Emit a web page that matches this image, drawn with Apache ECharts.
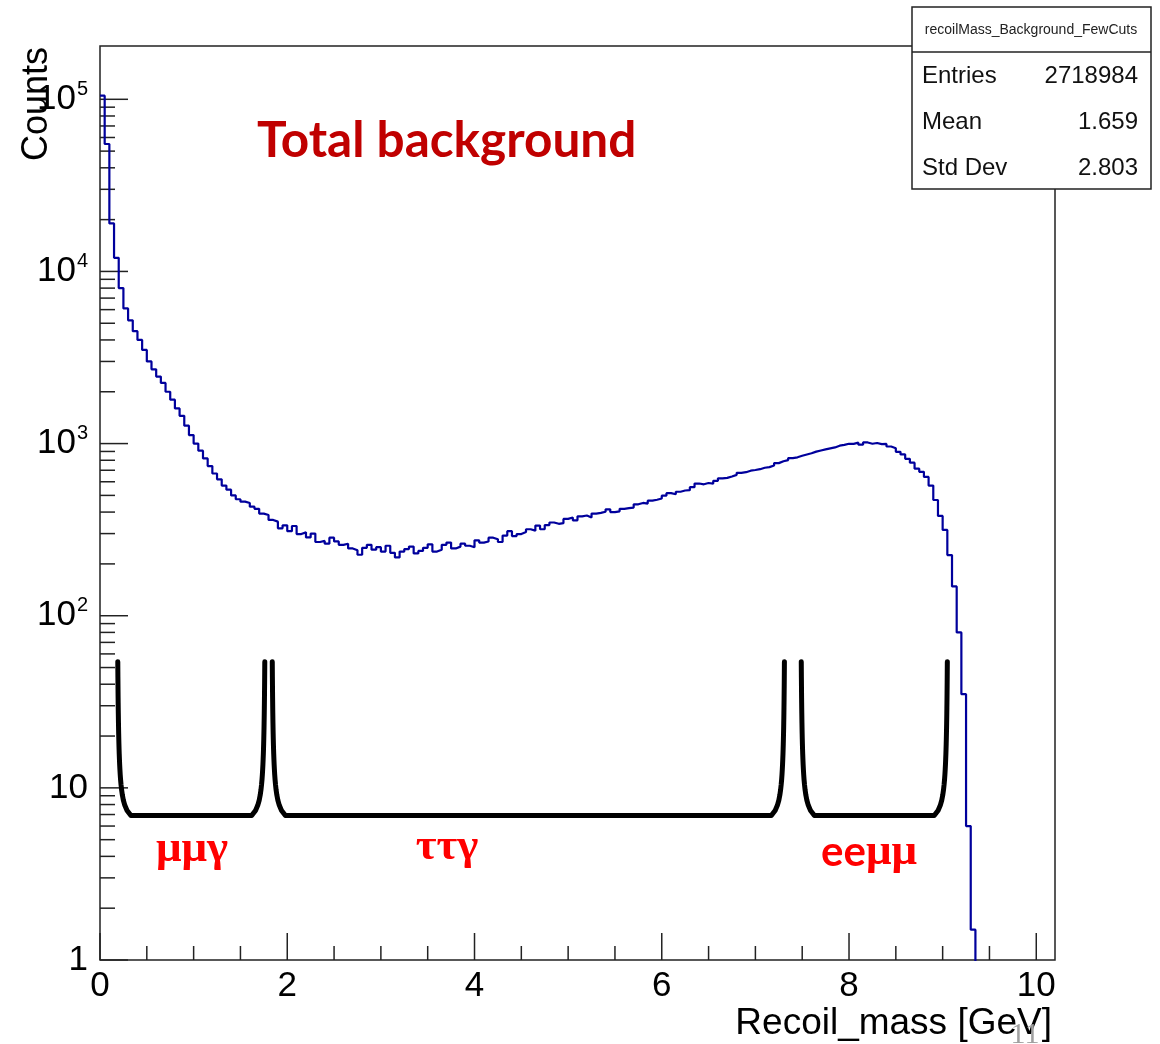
<!DOCTYPE html>
<html>
<head>
<meta charset="utf-8">
<script src="https://cdn.jsdelivr.net/npm/echarts@6/dist/echarts.min.js"></script>
<style>
  html, body { margin: 0; padding: 0; background: #ffffff; }
  #chart { width: 1160px; height: 1044px; }
</style>
</head>
<body>
<div id="chart"></div>
<script>
// Recoil mass histogram, 0.05 GeV bins starting at 0
const binWidth = 0.05;
const counts = [
  105000, 55000, 19000, 12000, 8000, 6100, 5200, 4500, 4000, 3500,
  3000, 2700, 2450, 2250, 2000, 1800, 1600, 1450, 1270, 1120,
  1000, 910, 820, 740, 670, 620, 570, 540, 500, 475,
  460, 452, 430, 418, 392, 385, 360, 352, 322, 335,
  310, 332, 298, 305, 285, 300, 268, 272, 262, 284,
  270, 258, 262, 246, 240, 226, 248, 258, 242, 250,
  236, 255, 232, 218, 236, 244, 252, 230, 238, 248,
  260, 236, 242, 258, 266, 246, 252, 262, 255, 250,
  274, 266, 270, 284, 278, 268, 292, 310, 290, 298,
  306, 318, 312, 334, 318, 336, 348, 342, 345, 365,
  372, 358, 378, 382, 372, 392, 396, 402, 415, 400,
  404, 418, 422, 425, 444, 452, 448, 466, 472, 480,
  498, 515, 508, 525, 534, 536, 558, 586, 580, 590,
  586, 608, 628, 632, 644, 658, 676, 682, 696, 702,
  710, 724, 730, 746, 770, 790, 802, 824, 832, 850,
  864, 878, 898, 912, 926, 938, 950, 972, 982, 998,
  996, 1012, 985, 1015, 998, 1008, 992, 996, 962, 940,
  895, 865, 815, 775, 715, 685, 640, 570, 470, 380,
  315, 225, 148, 80, 35, 6, 1.5
];

// Axis ticks
const xTickLabels = [0, 2, 4, 6, 8, 10];
const yTickDecades = [1, 10, 100, 1000, 10000, 100000];

// Background process regions (x ranges in GeV)
const regions = [
  { name: 'μμγ', from: 0.19, to: 1.76 },
  { name: 'ττγ', from: 1.84, to: 7.31 },
  { name: 'eeμμ', from: 7.49, to: 9.05 }
];

// Statistics box
const statsTitle = 'recoilMass_Background_FewCuts';
const statsRows = [
  ['Entries', '2718984'],
  ['Mean', '1.659'],
  ['Std Dev', '2.803']
];

const X_MAX = 10.2;
const Y_MIN = 1;
const Y_MAX = 2.04e5;
const SANS = '"Liberation Sans", Arial, Helvetica, sans-serif';
const SERIF = '"Liberation Serif", "DejaVu Serif", serif';
const CALIBRI_LIKE = 'Lato, "Open Sans", sans-serif';

// Histogram outline drawn as steps
const histLine = [];
counts.forEach((c, i) => {
  histLine.push([i * binWidth, c]);
  histLine.push([(i + 1) * binWidth, c]);
});
histLine.push([counts.length * binWidth, 0.5]);

// Tick marks: kind 0 = x major, 1 = x minor, 2 = y major, 3 = y minor
const tickData = [];
xTickLabels.forEach(v => tickData.push([v, Y_MIN, 0]));
xTickLabels.forEach(v => {
  [0.5, 1, 1.5].forEach(m => { if (v + m < X_MAX) tickData.push([v + m, Y_MIN, 1]); });
});
yTickDecades.forEach(d => {
  tickData.push([0, d, 2]);
  for (let m = 2; m <= 9; m++) {
    if (m * d < Y_MAX * 0.97) tickData.push([0, m * d, 3]);
  }
});

// Bracket outline under each region: curved uprights, flat bottom
function bracketPath(x0, x1) {
  const top = Math.log10(54), bot = Math.log10(6.9);
  const inset = 0.14, e = 0.09, n = 30;
  const g0 = e / (1 + e);
  const bend = s => (e / (1 - s + e) - g0) / (1 - g0);
  const pts = [];
  for (let k = 0; k <= n; k++) {
    const s = k / n;
    pts.push([x0 + inset * bend(s), Math.pow(10, top - (top - bot) * s)]);
  }
  for (let k = n; k >= 0; k--) {
    const s = k / n;
    pts.push([x1 - inset * bend(s), Math.pow(10, top - (top - bot) * s)]);
  }
  return pts;
}

const bracketSeries = regions.map(r => ({
  type: 'line',
  name: r.name,
  data: bracketPath(r.from, r.to),
  showSymbol: false,
  silent: true,
  z: 4,
  lineStyle: { color: '#000000', width: 5, cap: 'round', join: 'round' }
}));

const chart = echarts.init(document.getElementById('chart'), null, { renderer: 'canvas' });

const graphics = [
  {
    type: 'text', x: 257, y: 141,
    style: { text: 'Total background', font: 'bold 49.5px ' + CALIBRI_LIKE, fill: '#c00000', verticalAlign: 'middle' }
  },
  {
    type: 'text', x: 192, y: 849,
    style: { text: regions[0].name, font: 'bold 45px ' + SERIF, fill: '#ff0000', align: 'center', verticalAlign: 'middle' }
  },
  {
    type: 'text', x: 447, y: 847,
    style: { text: regions[1].name, font: 'bold 45px ' + SERIF, fill: '#ff0000', align: 'center', verticalAlign: 'middle' }
  },
  {
    type: 'text', x: 869, y: 852,
    style: {
      text: '{a|ee}{b|μμ}', align: 'center', verticalAlign: 'middle',
      rich: {
        a: { font: 'bold 42px ' + CALIBRI_LIKE, fill: '#ff0000' },
        b: { font: 'bold 45px ' + SERIF, fill: '#ff0000' }
      }
    }
  },
  {
    type: 'text', x: 37, y: 47, rotation: Math.PI / 2,
    style: { text: 'Counts', font: '36px ' + SANS, fill: '#000000', align: 'right', verticalAlign: 'middle' }
  },
  {
    type: 'text', x: 1052, y: 1024,
    style: { text: 'Recoil_mass [GeV]', font: '37px ' + SANS, fill: '#000000', align: 'right', verticalAlign: 'middle' }
  },
  {
    type: 'text', x: 1025, y: 1020, z: 120,
    style: { text: '11', font: '30px ' + SERIF, fill: '#a0a0a0', align: 'center', verticalAlign: 'top' }
  },
  {
    type: 'rect', z: 100,
    shape: { x: 912, y: 7, width: 239, height: 182 },
    style: { fill: '#ffffff', stroke: '#222222', lineWidth: 1.5 }
  },
  {
    type: 'line', z: 101,
    shape: { x1: 912, y1: 52, x2: 1151, y2: 52 },
    style: { stroke: '#222222', lineWidth: 1.5 }
  },
  {
    type: 'text', x: 1031, y: 30, z: 101,
    style: { text: statsTitle, font: '14px ' + SANS, fill: '#222222', align: 'center', verticalAlign: 'middle' }
  }
];
statsRows.forEach((row, i) => {
  const y = 76 + i * 46;
  graphics.push({
    type: 'text', x: 922, y: y, z: 101,
    style: { text: row[0], font: '24px ' + SANS, fill: '#111111', align: 'left', verticalAlign: 'middle' }
  });
  graphics.push({
    type: 'text', x: 1138, y: y, z: 101,
    style: { text: row[1], font: '24px ' + SANS, fill: '#111111', align: 'right', verticalAlign: 'middle' }
  });
});

const option = {
  animation: false,
  backgroundColor: '#ffffff',
  grid: {
    left: 100, right: 105, top: 46, bottom: 84,
    show: true, borderColor: '#222222', borderWidth: 1.5, backgroundColor: 'transparent'
  },
  xAxis: {
    type: 'value', min: 0, max: X_MAX, interval: 2,
    axisLine: { show: false },
    axisTick: { show: false },
    splitLine: { show: false },
    axisLabel: {
      margin: 9, fontSize: 35, fontFamily: SANS, color: '#000000',
      formatter: v => (xTickLabels.indexOf(v) >= 0 ? String(v) : '')
    }
  },
  yAxis: {
    type: 'log', logBase: 10, min: Y_MIN, max: Y_MAX,
    axisLine: { show: false },
    axisTick: { show: false },
    splitLine: { show: false },
    axisLabel: {
      margin: 12, fontSize: 35, fontFamily: SANS, color: '#000000',
      formatter: v => {
        const e = Math.log10(v);
        const r = Math.round(e);
        if (Math.abs(e - r) > 1e-6 || yTickDecades.indexOf(Math.pow(10, r)) < 0) return '';
        if (r === 0) return '1';
        if (r === 1) return '10';
        return '{b|10}{s|' + r + '}';
      },
      rich: {
        b: { fontSize: 35, fontFamily: SANS, color: '#000000', lineHeight: 40 },
        s: { fontSize: 20, fontFamily: SANS, color: '#000000', verticalAlign: 'top', lineHeight: 40, padding: [0, 0, 0, 1] }
      }
    }
  },
  graphic: { elements: graphics },
  series: [
    {
      type: 'custom',
      name: 'ticks',
      silent: true,
      clip: false,
      z: 3,
      data: tickData,
      renderItem: (params, api) => {
        const kind = api.value(2);
        const p = api.coord([api.value(0), api.value(1)]);
        const lens = [27, 14, 28, 15];
        const len = lens[kind];
        const shape = kind < 2
          ? { x1: p[0], y1: p[1], x2: p[0], y2: p[1] - len }
          : { x1: p[0], y1: p[1], x2: p[0] + len, y2: p[1] };
        return { type: 'line', shape: shape, style: { stroke: '#222222', lineWidth: 1.5 } };
      }
    },
    {
      type: 'line',
      name: 'recoilMass',
      data: histLine,
      showSymbol: false,
      silent: true,
      clip: true,
      z: 5,
      lineStyle: { color: '#00009c', width: 2.2 }
    }
  ].concat(bracketSeries)
};

chart.setOption(option);
</script>
</body>
</html>
